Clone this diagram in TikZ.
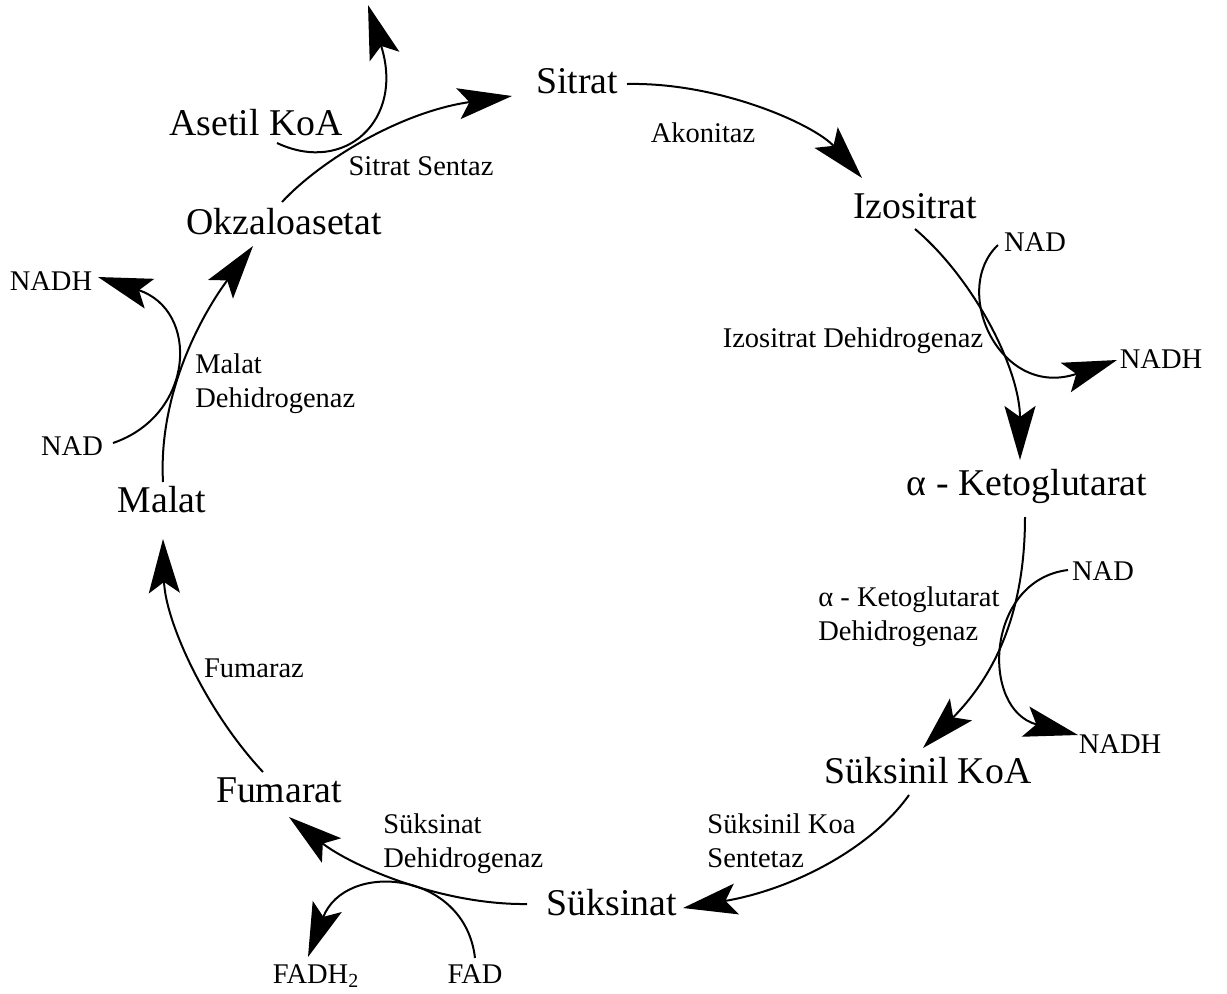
\documentclass[tikz,border=0pt]{standalone}
\usepackage{fontspec}
\setmainfont{Liberation Serif}
\usepackage{tikz}
\usetikzlibrary{arrows.meta}
\tikzstyle{metab}=[font=\fontsize{18.9}{22}\selectfont
,inner sep=0pt
,anchor=base
]
\tikzstyle{enzyme}=[font=\fontsize{14.25}{17}\selectfont
,inner sep=0pt
,anchor=base
]
\tikzstyle{flow} = [draw,line width=1pt,-{Stealth[length=27pt,width=15.5pt,inset=5.5pt]}]

\begin{document}
\begin{tikzpicture}[x=0.5pt,y=-0.5pt]
    \useasboundingbox (0,0) rectangle (1227,993);
    % First we draw the metabolites of the cycle
    \foreach \pos/\name/\txt in {{(577,93)/sitrat/Sitrat}, {(256,135)/asetil/Asetil KoA},
        {(284,234)/okz/Okzaloasetat}, {(915,218)/izo/Izositrat}, {(1027,495)/akg/α - Ketoglutarat},
        {(928,783)/sukkoa/Süksinil KoA}, {(612,915)/suks/Süksinat}, {(279,802)/fum/Fumarat},
        {(162,512)/malat/Malat}}
        \node[metab] (\name) at \pos {\txt};

    % Enzymes and cofactors
    \foreach \pos/\name/\txt in {{(703,142)/akon/Akonitaz}, {(421,175)/sitsen/Sitrat Sentaz},
        {(853,347)/izodh/Izositrat Dehidrogenaz}, {(1035,251)/nadA/NAD}, {(1161,368)/nadhA/NADH},
        {(1103,580)/nadB/NAD}, {(1120,753)/nadhB/NADH}, {(475,983)/fad/FAD},
        {(254,677)/fumz/Fumaraz}, {(51,290)/nadhC/NADH}, {(72,455)/nadC/NAD}}
        \node[enzyme] (\name) at \pos {\txt};
    \node[enzyme] (fadh) at (316,983) {FADH\textsubscript{2}};
    % the base of a two line label is its last line
    \node[enzyme,anchor=base west,align=left] (akgdh) at (818,640) {α - Ketoglutarat\\Dehidrogenaz};
    \node[enzyme,anchor=base west,align=left] (sukdh) at (707,867) {Süksinil Koa\\Sentetaz};
    \node[enzyme,anchor=base west,align=left] (suksdh) at (383,867) {Süksinat\\Dehidrogenaz};
    \node[enzyme,anchor=base west,align=left] (maldh) at (195,407) {Malat\\Dehidrogenaz};
    \coordinate (koa) at (368,5);

    % Connect the metabolites with curved arrows
    \path[flow] ([shift={(-2,-32)}]okz.base) .. controls +(38,-41) and +(-112,16) .. ([shift={(-65,3)}]sitrat.base);
    \path[flow] ([shift={(21,8)}]asetil.base) .. controls +(68,32) and +(37,115) .. (koa);
    \path[flow] ([shift={(50,-9)}]sitrat.base) .. controls +(93,-2) and +(-47,-53) .. ([shift={(-53,-40)}]izo.base);
    \path[flow] ([shift={(0,11)}]izo.base) .. controls +(60,51) and +(0,-90) .. ([shift={(-7,-35)}]akg.base);
    \path[flow] ([shift={(-37,-6)}]nadA.base) .. controls +(-48,45) and +(-117,40) .. ([shift={(-44,-8)}]nadhA.base);
    \path[flow] ([shift={(-2,22)}]akg.base) .. controls +(0,103) and +(67,-68) .. ([shift={(-5,-35)}]sukkoa.base);
    \path[flow] ([shift={(-35,-10)}]nadB.base) .. controls +(-83,10) and +(-98,-25) .. ([shift={(-42,-18)}]nadhB.base);
    \path[flow] ([shift={(-19,12)}]sukkoa.base) .. controls +(-39,55) and +(107,-18) .. ([shift={(71,-7)}]suks.base);
    \path[flow] ([shift={(-85,-11)}]suks.base) .. controls +(-87,1) and +(61,48) .. ([shift={(10,15)}]fum.base);
    \path[flow] ([shift={(0,-25)}]fad.base) .. controls +(-10,-88) and +(37,-97) .. ([shift={(-8,-26)}]fadh.base);
    \path[flow] ([shift={(-16,-30)}]fum.base) .. controls +(-58,-62) and +(2,81) .. ([shift={(1,27)}]malat.base);
    \path[flow] ([shift={(1,-30)}]malat.base) .. controls +(-5,-92) and +(-48,64) .. ([shift={(-31,12)}]okz.base);
    \path[flow] ([shift={(41,-12)}]nadC.base) .. controls +(82,-28) and +(102,33) .. ([shift={(47,-13)}]nadhC.base);
\end{tikzpicture}
\end{document}
